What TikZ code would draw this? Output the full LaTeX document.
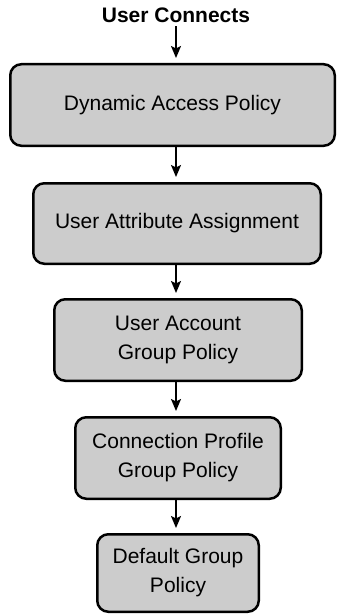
\documentclass[tikz,border=0pt]{standalone}
\usepackage{fontspec}
\setmainfont{Liberation Sans}
\usetikzlibrary{arrows.meta}
\definecolor{boxfill}{HTML}{CCCCCC}
\tikzset{
  stage/.style={draw=black, line width=2.5pt, fill=boxfill, rounded corners=11pt,
    inner sep=0pt, align=center, font=\fontsize{21}{29}\selectfont},
  flow/.style={line width=2pt, -{Stealth[length=12pt, width=10pt, inset=2.5pt]},
    shorten >=5pt},
}
\begin{document}
\begin{tikzpicture}[x=1pt, y=1pt]
  \useasboundingbox (0,0) rectangle (337,-615);
  % vertical axis the arrows follow
  \coordinate (ax) at (176,0);
  \node[anchor=base, inner sep=0pt, font=\fontsize{21}{29}\selectfont\bfseries]
    (start) at (176,-23) {User Connects};
  % stages, outer edges given by their sizes
  \node[stage, minimum width=324.5pt, minimum height=81.5pt] (dap) at (172.5,-105) {Dynamic Access Policy};
  \node[stage, minimum width=287.5pt, minimum height=80.5pt] (uaa) at (177,-223.5) {User Attribute Assignment};
  \node[stage, minimum width=247.5pt, minimum height=81.5pt] (uagp) at (178,-340) {User Account\\Group Policy};
  \node[stage, minimum width=205.5pt, minimum height=81.5pt] (cpgp) at (178,-458) {Connection Profile\\Group Policy};
  \node[stage, minimum width=161.5pt, minimum height=77.5pt] (dgp) at (178,-573) {Default Group\\Policy};
  % connectors
  \draw[flow, shorten <=3pt] (start.south -| ax) -- (dap.north -| ax);
  \draw[flow] (dap.south -| ax) -- (uaa.north -| ax);
  \draw[flow] (uaa.south -| ax) -- (uagp.north -| ax);
  \draw[flow] (uagp.south -| ax) -- (cpgp.north -| ax);
  \draw[flow] (cpgp.south -| ax) -- (dgp.north -| ax);
\end{tikzpicture}
\end{document}
